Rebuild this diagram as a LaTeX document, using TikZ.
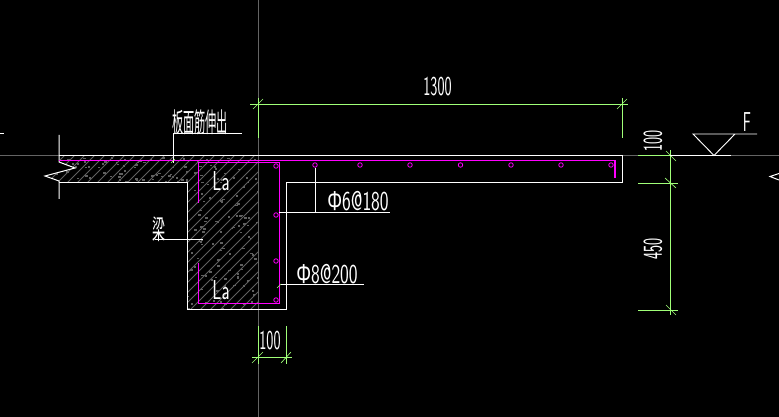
\documentclass[tikz,border=0pt]{standalone}
\usepackage{fontspec}
\newfontfamily\cjk{Noto Sans CJK SC}
\newfontfamily\phifont{Liberation Sans}
\newcommand{\cadnum}[2][.55]{\scalebox{#1}[1]{\fontsize{20.5}{20.5}\sffamily #2}}
\newcommand{\cadcjk}[2]{\scalebox{#1}[1.45]{\fontsize{14}{14}\cjk #2}}
\definecolor{dimgreen}{RGB}{160,255,120}
\definecolor{rebar}{RGB}{255,0,255}
\definecolor{hatchgray}{RGB}{96,96,96}
\definecolor{axisgray}{RGB}{100,100,100}
\tikzset{
  outline/.style={draw=white,line width=.75pt},
  leader/.style={draw=white,line width=.7pt},
  dimline/.style={draw=dimgreen,line width=.65pt},
  tick/.style={draw=dimgreen,line width=.5pt},
  bar/.style={draw=rebar,line width=.9pt},
  stirrup/.style={draw=rebar,line width=.7pt},
  dotbar/.style={circle,draw=rebar,line width=.6pt,inner sep=0pt,minimum size=3.4pt},
  label/.style={text=white,inner sep=0pt},
  axis/.style={draw=axisgray,line width=.6pt}
}
\begin{document}
\begin{tikzpicture}[x=.75pt,y=-.75pt]
\useasboundingbox[fill=black] (0,0) rectangle (779,417);
% axes
\draw[axis] (0,155.5) -- (779,155.5);
\draw[axis] (258,0) -- (258,417);
% concrete hatch
\begin{scope}
\clip (59,156) -- (258,156) -- (258,310) -- (187.5,310) -- (187.5,183) -- (59,183) -- (59,180) -- (45,176) -- (75,168) -- (59,162) -- cycle;
\foreach \i in {-20,...,30} \draw[hatchgray,line width=.6pt] (40+10*\i,320) -- ++(180,-180);
\pgfmathsetseed{7}
\foreach \i in {1,...,420} {
  \pgfmathsetmacro{\px}{45+215*rnd}
  \pgfmathsetmacro{\py}{156+154*rnd}
  \fill[hatchgray] (\px,\py) rectangle ++(2.4,1.6);
}
\end{scope}
% outline
\draw[outline] (59,155.5) -- (622,155.5) -- (622,183) -- (286,183) -- (286,310) -- (187.5,310) -- (187.5,183) -- (59,183);
\coordinate (bT) at (59,135); \coordinate (bB) at (59,199);
\draw[outline] (bT) -- (59,162) -- (75,168) -- (45,176) -- (59,181) -- (bB);
% rebar
\draw[bar] (59,160.5) -- (615,160.5) -- (615,178);
\draw[stirrup] (198.5,203) -- (198.5,162.5) -- (279.5,162.5) -- (279.5,303) -- (198.5,303) -- (198.5,263);
\foreach \n/\x/\y in {a/276/166,b/276/215,c/276/261,d/276/300,e/315/165,f/360/165,g/410/165,h/460.5/165,i/511/165,j/561/165,k/611/165}
  \node[dotbar] (dot\n) at (\x,\y) {};
% leaders
\draw[leader] (173,163) -- (173,133) -- (242,133);
\draw[tick] (171,163) -- (175,159);
\draw[leader] (dotb.east) ++(0,-2.5) -- (390,212.5);
\draw[leader] (dote.south) -- (315,212.5);
\draw[leader] (281,284) -- (364,284);
\draw[tick] (277,288) -- (281,284);
\draw[leader] (155,239) -- (203,239);
% top dimension
\draw[dimline] (250,104) -- (628,104);
\draw[dimline] (258,98) -- (258,138);
\draw[dimline] (622,98) -- (622,138);
\draw[tick] (253,109) -- (263,99);
\draw[tick] (617,109) -- (627,99);
% right dimension
\draw[dimline] (670,150) -- (670,315);
\draw[dimline] (638,155.5) -- (678,155.5);
\draw[dimline] (638,183) -- (678,183);
\draw[dimline] (638,310) -- (678,310);
\draw[tick] (666,151) -- (676,161);
\draw[tick] (665,178) -- (676,188);
\draw[tick] (666,305) -- (676,315);
% bottom dimension
\draw[dimline] (252,357) -- (292,357);
\draw[dimline] (258,326) -- (258,364);
\draw[dimline] (286,326) -- (286,364);
\draw[tick] (252,363) -- (263,352);
\draw[tick] (281,363) -- (291,352);
% level mark
\draw[outline] (670,155.5) -- (731,155.5);
\draw[leader] (757,134) -- (693,134) -- (714,155.5) -- (735,134);
% edge marks
\draw[outline] (0,134) -- (4,134);
\draw[outline] (779,173.5) -- (770,176.5) -- (779,180);
% texts
\node[label] (t1300) at (437.5,87) {\cadnum{1300}};
\node[label] (t100a) at (653,141) {\rotatebox{90}{\cadnum{100}}};
\node[label] (t450) at (653,249) {\rotatebox{90}{\cadnum{450}}};
\node[label] (t100b) at (270,341) {\cadnum{100}};
\node[label] (tF) at (747,122) {\cadnum{F}};
\node[label] (tLa1) at (221,181) {\cadnum[.65]{La}};
\node[label] (tLa2) at (221,290) {\cadnum[.65]{La}};
\node[label] (tphi6) at (358,201) {\cadnum[.68]{{\phifont Φ}6@180}};
\node[label] (tphi8) at (327,274) {\cadnum[.68]{{\phifont Φ}8@200}};
\node[label] (tban) at (200,122) {\cadcjk{.6}{板面筋伸出}};
\node[label] (tliang) at (159,229) {\cadcjk{.7}{梁}};
\end{tikzpicture}
\end{document}
